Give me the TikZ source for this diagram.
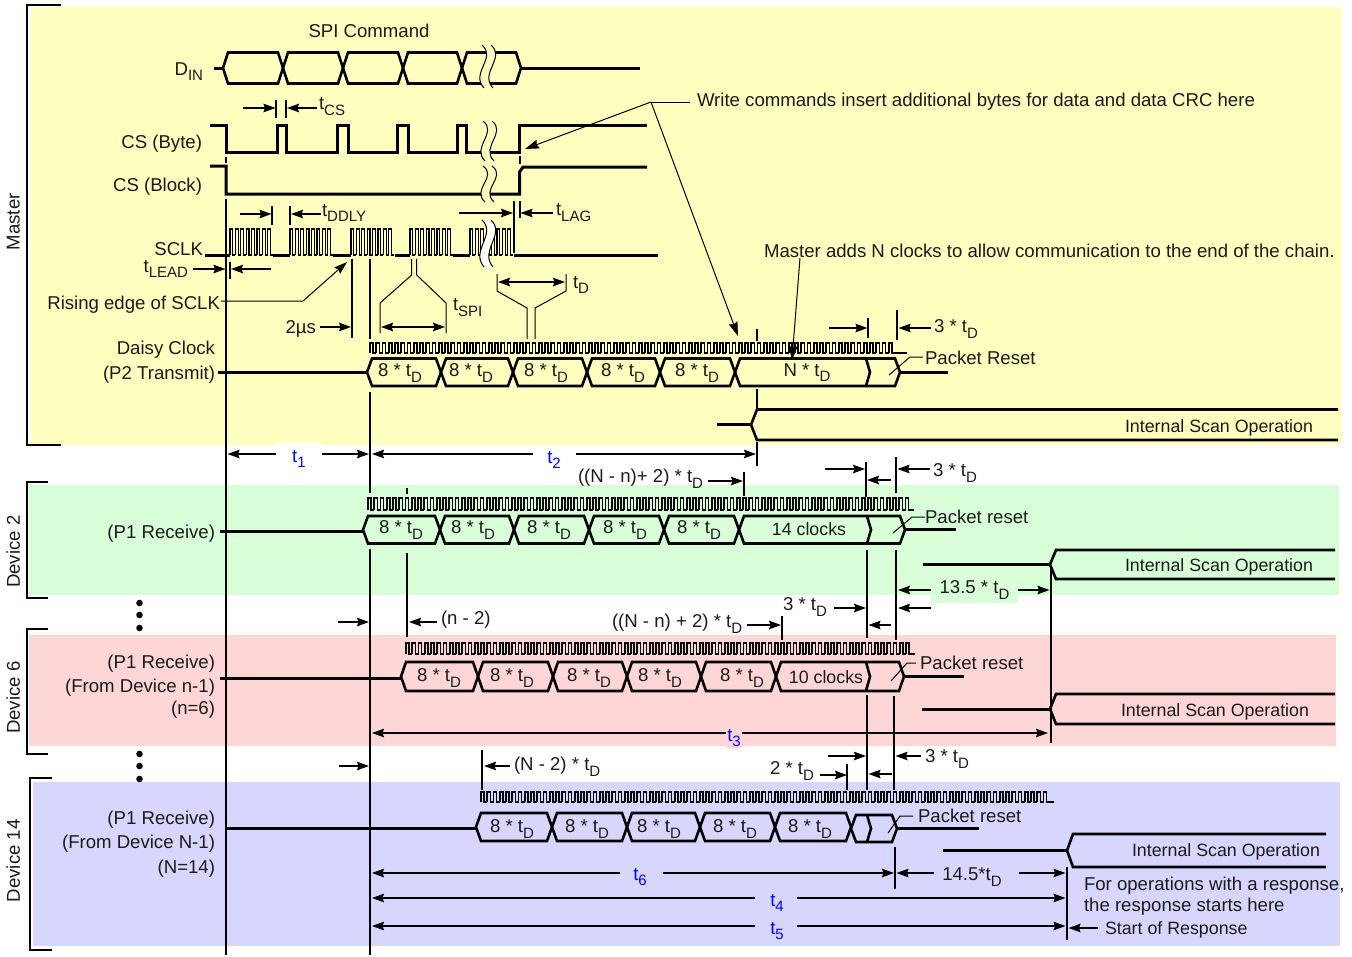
\documentclass[tikz,border=0pt]{standalone}
\usepackage{fontspec}
\usepackage{xcolor}
\usetikzlibrary{arrows.meta}
\setmainfont{Liberation Sans}
\definecolor{SpiYellow}{HTML}{FFFFBF}
\definecolor{SpiGreen}{HTML}{D8FFD8}
\definecolor{SpiPink}{HTML}{FFD6D6}
\definecolor{SpiBlue}{HTML}{D6D6FF}
\definecolor{SpiInk}{HTML}{1A1A1A}
\newcommand{\subd}[1]{\raisebox{-0.3em}{\fontsize{15}{15}\selectfont #1}}
\newcommand{\bushex}[4]{\draw[busline] (#1,{(#3+#4)/2}) -- ({#1+5},#3) -- ({#2-5},#3) -- (#2,{(#3+#4)/2}) -- ({#2-5},#4) -- ({#1+5},#4) -- cycle;}
\newcommand{\buschev}[3]{\draw[busline] (#1,#2) -- ({#1+4},{(#2+#3)/2}) -- (#1,#3);}
\newcommand{\scanhex}[5]{\draw[busline] (#1,#3) -- ({#2+6},#3) -- (#2,{(#3+#4)/2}) -- ({#2+6},#4) -- (#1,#4);\draw[sigline] ({#2-#5},{(#3+#4)/2}) -- (#2,{(#3+#4)/2});}
\newcommand{\clockwave}[5]{\foreach \k in {1,...,#2}{\draw[clockline] ({#1+(\k-1)*#3},#5) -- ({#1+(\k-1)*#3},#4) -- ({#1+(\k-.5)*#3},#4) -- ({#1+(\k-.5)*#3},#5) -- ({#1+\k*#3},#5);}}
\newcommand{\breakwave}[4]{\fill[#4] (#1,#2) .. controls ({#1+15},{#2+.3*(#3-#2)}) and ({#1-12},{#2+.65*(#3-#2)}) .. ({#1+2},#3) -- ({#1+11},#3) .. controls ({#1-3},{#2+.65*(#3-#2)}) and ({#1+24},{#2+.3*(#3-#2)}) .. ({#1+9},#2) -- cycle;
\draw[thinline] (#1,#2) .. controls ({#1+15},{#2+.3*(#3-#2)}) and ({#1-12},{#2+.65*(#3-#2)}) .. ({#1+2},#3);
\draw[thinline] ({#1+9},#2) .. controls ({#1+24},{#2+.3*(#3-#2)}) and ({#1-3},{#2+.65*(#3-#2)}) .. ({#1+11},#3);}
\tikzset{
  lbl/.style={font=\fontsize{18.6}{20}\selectfont,text=SpiInk,inner sep=0pt,outer sep=0pt,yshift=-1.8pt},
  lbs/.style={lbl,font=\fontsize{17.8}{20}\selectfont},
  blu/.style={font=\fontsize{18.6}{20}\selectfont,text=blue,inner sep=2pt,outer sep=0pt},
  sigline/.style={line width=3pt,black},
  busline/.style={line width=2.6pt,black,line join=miter},
  clockline/.style={line width=1.7pt,black,line join=miter},
  sclkline/.style={line width=1.2pt,black,line join=miter},
  vline/.style={line width=2pt,black},
  tickline/.style={line width=1.7pt,black},
  thinline/.style={line width=1pt,black},
  dim/.style={line width=1.5pt,black,-{Stealth[length=12pt,width=8.5pt,inset=1.5pt]}},
  dimboth/.style={line width=1.5pt,black,{Stealth[length=12pt,width=8.5pt,inset=1.5pt]}-{Stealth[length=12pt,width=8.5pt,inset=1.5pt]}},
  bracket/.style={line width=2.8pt,black,line join=miter},
}
\begin{document}
\begin{tikzpicture}[x=1pt,y=-1pt]
\path[use as bounding box] (0,0) rectangle (1352,956);
\fill[SpiYellow] (31,7) rectangle (1342,445);
\fill[SpiGreen] (29,485) rectangle (1339,595);
\fill[SpiPink] (29,635) rectangle (1336,746);
\fill[SpiBlue] (33,782) rectangle (1340,946);
\draw[bracket] (61,5) -- (27,5) -- (27,445) -- (61,445);
\draw[bracket] (48,482) -- (27,482) -- (27,598) -- (48,598);
\draw[bracket] (48,629) -- (27,629) -- (27,754) -- (48,754);
\draw[bracket] (52,778) -- (30,778) -- (30,950) -- (52,950);
\node[lbl,rotate=90,yshift=1.8pt] (master) at (15,220) {Master};
\node[lbl,rotate=90,yshift=1.8pt] (dev2) at (15,550) {Device 2};
\node[lbl,rotate=90,yshift=1.8pt] (dev6) at (15,696) {Device 6};
\node[lbl,rotate=90,yshift=1.8pt] (dev14) at (15,859) {Device 14};
\foreach \y in {603,615,628,754,766,779}{\fill[black] (139.5,\y) circle (3.3);}
\node[lbl] (spicmd) at (369,29.5) {SPI Command};
\node[lbl,anchor=east] (din) at (203,70) {D\subd{IN}};
\node[lbl,anchor=east] (csbyte) at (202,142) {CS (Byte)};
\node[lbl,anchor=east] (csblock) at (202,185) {CS (Block)};
\node[lbl,anchor=east] (sclk) at (203,247) {SCLK};
\node[lbl,anchor=east] (tlead) at (188,267) {t\subd{LEAD}};
\node[lbl,anchor=east] (rising) at (220,303) {Rising edge of SCLK};
\node[lbl,anchor=east] (twous) at (316,327) {2µs};
\node[lbl,anchor=east] (daisy) at (215,348) {Daisy Clock};
\node[lbl,anchor=east] (ptx) at (215,373) {(P2 Transmit)};
\node[lbl,anchor=east] (prx2) at (215,532) {(P1 Receive)};
\node[lbl,anchor=east] (prx6) at (215,662) {(P1 Receive)};
\node[lbl,anchor=east] (from6) at (215,686) {(From Device n-1)};
\node[lbl,anchor=east] (n6) at (215,708) {(n=6)};
\node[lbl,anchor=east] (prx14) at (215,818) {(P1 Receive)};
\node[lbl,anchor=east] (from14) at (215,842) {(From Device N-1)};
\node[lbl,anchor=east] (n14) at (215,867) {(N=14)};
\draw[sigline] (214,68) -- (223,68);
\foreach \xa/\xb in {223/283,283/343,343/403,403/462,462/521}{\bushex{\xa}{\xb}{52.5}{83.5}}
\draw[sigline] (521,68) -- (640,68);
\breakwave{482}{45}{88}{SpiYellow}
\draw[sigline,line join=miter] (210,125) -- (226,125) -- (226,152) -- (277,152) -- (277,125) -- (286,125) -- (286,152) -- (337,152) -- (337,125) -- (348,125) -- (348,152) -- (397,152) -- (397,125) -- (408,125) -- (408,152) -- (457,152) -- (457,125) -- (466,125) -- (466,152) -- (519.5,152) -- (519.5,125) -- (647,125);
\draw[sigline,line join=miter] (210,166) -- (226,166) -- (226,194) -- (519.5,194) -- (519.5,172) -- (523,167) -- (647,167);
\breakwave{483}{121}{161}{SpiYellow}
\breakwave{483}{166}{202}{SpiYellow}
\draw[tickline] (226,157) -- (226,163);
\draw[tickline] (520,156) -- (520,164);
\draw[sigline] (205,255) -- (230,255);
\begin{scope}[clockline/.style=sclkline]
\foreach \xs in {230,290,351,410,470}{\clockwave{\xs}{8}{5.4}{229}{255}}
\end{scope}
\draw[sigline] (273,255) -- (290,255);
\draw[sigline] (333,255) -- (351,255);
\draw[sigline] (395,255) -- (410,255);
\draw[sigline] (453,255) -- (470,255);
\draw[sigline] (514,255) -- (658,255);
\breakwave{482}{220}{267}{white}
\draw[vline] (226,199) -- (226,955);
\draw[tickline] (276,100) -- (276,118);
\draw[tickline] (286,100) -- (286,118);
\draw[dim] (243,108) -- (275.5,108);
\draw[dim] (317,108) -- (287,108);
\node[lbl,anchor=west] (tcs) at (319,105) {t\subd{CS}};
\draw[tickline] (272,206) -- (272,225);
\draw[tickline] (290,206) -- (290,225);
\draw[dim] (240,214) -- (271.5,214);
\draw[dim] (321,214) -- (291,214);
\node[lbl,anchor=west] (tddly) at (322,211) {t\subd{DDLY}};
\draw[tickline] (513.7,201) -- (513.7,253);
\draw[tickline] (519.7,201) -- (519.7,218);
\draw[dim] (459,213) -- (513,213);
\draw[dim] (553,213) -- (520.5,213);
\node[lbl,anchor=west] (tlag) at (556,211) {t\subd{LAG}};
\draw[tickline] (230,262) -- (230,279);
\draw[dim] (193,269) -- (225.5,269);
\draw[dim] (271,269) -- (231,269);
\draw[thinline,-{Stealth[length=13pt,width=8.5pt,inset=1.5pt]}] (221,301) -- (303,301) -- (347,262);
\draw[tickline] (352,259) -- (352,338);
\draw[dim] (320,327) -- (351,327);
\draw[vline] (370,259) -- (370,339);
\draw[vline] (370,392) -- (370,493);
\draw[vline] (370,549) -- (370,955);
\draw[thinline] (411.7,259) -- (411.7,275) -- (380,303) -- (380,333);
\draw[thinline] (416.7,259) -- (416.7,275) -- (446,303) -- (446,333);
\draw[dimboth] (381,327) -- (445,327);
\node[lbl,anchor=west] (tspi) at (453,306) {t\subd{SPI}};
\draw[thinline] (497,274) -- (497,291) -- (527,308) -- (527,339);
\draw[thinline] (566,274) -- (566,291) -- (535,308) -- (535,339);
\draw[dimboth] (498,282) -- (565,282);
\node[lbl,anchor=west] (td) at (573,283) {t\subd{D}};
\coordinate (wjoin) at (651,102);
\node[lbl,anchor=west] (writecmd) at (697,100) {Write commands insert additional bytes for data and data CRC here};
\draw[thinline] (690,102) -- (wjoin);
\draw[thinline,-{Stealth[length=14pt,width=9pt,inset=1.5pt]}] (wjoin) -- (525,149);
\draw[thinline,-{Stealth[length=14pt,width=9pt,inset=1.5pt]}] (wjoin) -- (738,336);
\node[lbl,anchor=west] (madds) at (764,249) {Master adds N clocks to allow communication to the end of the chain.};
\draw[thinline,-{Stealth[length=14pt,width=9pt,inset=1.5pt]}] (800,258) -- (792,360);
\clockwave{370}{84}{6.25}{343}{353}
\draw[clockline] (895,353) -- (907,353);
\draw[sigline] (218,372) -- (367,372);
\foreach \xa/\xb/\xl/\nm in {367/441/400/a,441/513/471/b,513/587/546/c,587/660/623/d,660/735/697/e}{\bushex{\xa}{\xb}{358.5}{386}\node[lbl] (m\nm) at (\xl,371) {8 * t\subd{D}};}
\bushex{735}{900}{358.5}{386}
\buschev{866}{358.5}{386}
\node[lbl] (mn) at (807,371) {N * t\subd{D}};
\draw[sigline] (900,372) -- (948,372);
\draw[thinline] (889,375) -- (910,357) -- (923,357);
\node[lbl,anchor=west] (mreset) at (925,356) {Packet Reset};
\draw[tickline] (757,329) -- (757,341);
\draw[vline] (757,389) -- (757,409);
\draw[vline] (757,442) -- (757,466);
\draw[tickline] (868,318) -- (868,338);
\draw[tickline] (897,310) -- (897,340);
\draw[dim] (829,328) -- (867.5,328);
\draw[dim] (931,328) -- (898.5,328);
\node[lbl,anchor=west] (m3td) at (934,327) {3 * t\subd{D}};
\scanhex{1338}{751}{409.5}{440}{34}
\node[lbs] (mscan) at (1219,426) {Internal Scan Operation};
\draw[dim] (276,454) -- (227.5,454);
\draw[dim] (322,454) -- (369,454);
\fill[white] (276,443) rectangle (322,446);
\node[blu] (tone) at (299,459) {t\subd{1}};
\draw[dim] (533,454) -- (372,454);
\draw[dim] (576,454) -- (756,454);
\node[blu] (ttwo) at (554,460) {t\subd{2}};
\node[lbl,anchor=west] (d2nn) at (578,477) {((N - n)+ 2) * t\subd{D}};
\draw[dim] (708,481) -- (743,481);
\draw[tickline] (744,472) -- (744,496);
\draw[tickline] (866,462) -- (866,497);
\draw[tickline] (896,457) -- (896,493);
\draw[dim] (825,469) -- (865,469);
\draw[dim] (891,480) -- (867,480);
\draw[dim] (930,469) -- (897.5,469);
\node[lbl,anchor=west] (d23td) at (933,471) {3 * t\subd{D}};
\clockwave{368}{87}{6.25}{498}{510}
\draw[clockline] (911.7,510) -- (914,510);
\draw[tickline] (407,488) -- (407,494);
\draw[sigline] (220,531) -- (363,531);
\foreach \xa/\xb/\xl/\nm in {363/440/401/a,440/514/473/b,514/589/549/c,589/664/625/d,664/739/699/e}{\bushex{\xa}{\xb}{516}{543.5}\node[lbl] (d\nm) at (\xl,528) {8 * t\subd{D}};}
\bushex{739}{905}{516}{543.5}
\buschev{867}{516}{543.5}
\node[lbs] (dclk) at (809,527) {14 clocks};
\draw[sigline] (905,529) -- (956,529);
\draw[thinline] (893,533) -- (912,517) -- (925,517);
\node[lbl,anchor=west] (dreset) at (925,515) {Packet reset};
\draw[tickline] (407,553) -- (407,637);
\draw[dim] (437,622) -- (409,622);
\draw[dim] (338,622) -- (369,622);
\node[lbl,anchor=west] (n2) at (441,618) {(n - 2)};
\node[lbl,anchor=west] (d6nn) at (612,622) {((N - n) + 2) * t\subd{D}};
\draw[dim] (747,625) -- (781,625);
\draw[tickline] (782,616) -- (782,640);
\node[lbl,anchor=west] (d63td) at (783,605) {3 * t\subd{D}};
\draw[dim] (834,608) -- (866,608);
\draw[tickline] (867,550) -- (867,638);
\draw[tickline] (896,550) -- (896,640);
\draw[dim] (931,608) -- (898,608);
\draw[dim] (891,625) -- (868.5,625);
\scanhex{1335}{1050}{550}{579}{127}
\node[lbs] (dscan) at (1219,565) {Internal Scan Operation};
\node[lbl,yshift=1.8pt,fill=SpiGreen,minimum width=87pt,minimum height=26pt] (thalf) at (974.5,590) {13.5 * t\subd{D}};
\draw[dim] (931,590) -- (898,590);
\draw[dim] (1018,590) -- (1049.5,590);
\draw[vline] (1051,566) -- (1051,743);
\clockwave{406}{81}{6.25}{643}{654}
\draw[clockline] (912,654) -- (915,654);
\draw[sigline] (220,678) -- (401,678);
\foreach \xa/\xb/\xl/\nm in {401/478/439/a,478/553/512/b,553/627/589/c,627/701/660/d,701/776/742/e}{\bushex{\xa}{\xb}{662}{691}\node[lbl] (s\nm) at (\xl,676) {8 * t\subd{D}};}
\bushex{776}{904}{662}{691}
\buschev{866}{662}{691}
\node[lbs] (sclks) at (826,675) {10 clocks};
\draw[sigline] (904,676) -- (964,676);
\draw[thinline] (891,681) -- (907,663) -- (916,663);
\node[lbl,anchor=west] (sreset) at (920,661) {Packet reset};
\draw[tickline] (867,695) -- (867,790);
\draw[tickline] (894,696) -- (894,790);
\scanhex{1335}{1050}{694}{724}{128}
\node[lbs] (sscan) at (1215,710) {Internal Scan Operation};
\draw[dimboth] (372,733) -- (1048,733);
\node[blu,fill=SpiPink,inner sep=1pt] (tthree) at (734,738) {t\subd{3}};
\draw[tickline] (482,750) -- (482,790);
\draw[dim] (339,766) -- (369,766);
\draw[dim] (510,766) -- (484,766);
\node[lbl,anchor=west] (nm2) at (514,765) {(N - 2) * t\subd{D}};
\node[lbl,anchor=west] (two) at (770,769) {2 * t\subd{D}};
\draw[dim] (820,775) -- (847,775);
\draw[tickline] (847,764) -- (847,790);
\draw[dim] (828,756) -- (866,756);
\draw[dim] (892,774) -- (868.5,774);
\draw[dim] (921,756) -- (895.5,756);
\node[lbl,anchor=west] (l3td) at (925,757) {3 * t\subd{D}};
\clockwave{481}{91}{6.25}{792}{802}
\draw[clockline] (1049.7,802) -- (1054,802);
\draw[sigline] (226,828) -- (476,828);
\foreach \xa/\xb/\xl/\nm in {476/552/512/a,552/627/587/b,627/700/659/c,700/775/735/d,775/851/810/e}{\bushex{\xa}{\xb}{813}{841}\node[lbl] (l\nm) at (\xl,827) {8 * t\subd{D}};}
\bushex{851}{897}{815}{842}
\buschev{867}{815}{842}
\draw[sigline] (897,828) -- (979,828);
\draw[thinline] (888,833) -- (900,816) -- (913,816);
\node[lbl,anchor=west] (lreset) at (918,814) {Packet reset};
\draw[tickline] (895,847) -- (895,889);
\draw[vline] (1067,867) -- (1067,940);
\scanhex{1326}{1067}{834}{867}{124}
\node[lbs] (lscan) at (1226,850) {Internal Scan Operation};
\draw[dim] (620,873) -- (372,873);
\draw[dim] (663,873) -- (894,873);
\node[blu] (tsix) at (640,877) {t\subd{6}};
\draw[dim] (934,873) -- (896.5,873);
\draw[dim] (1019,873) -- (1065.5,873);
\node[lbl] (tfrac) at (972,875) {14.5*t\subd{D}};
\draw[dim] (755,898) -- (372,898);
\draw[dim] (797,898) -- (1065.5,898);
\node[blu] (tfour) at (777,903) {t\subd{4}};
\draw[dim] (755,926) -- (372,926);
\draw[dim] (797,926) -- (1065.5,926);
\node[blu] (tfive) at (777,931) {t\subd{5}};
\draw[dim] (1098,928) -- (1068.5,928);
\node[lbs,anchor=west] (startr) at (1105,928) {Start of Response};
\node[lbl,anchor=west] (forops) at (1084,884) {For operations with a response,};
\node[lbl,anchor=west] (thersp) at (1084,905) {the response starts here};
\end{tikzpicture}
\end{document}
